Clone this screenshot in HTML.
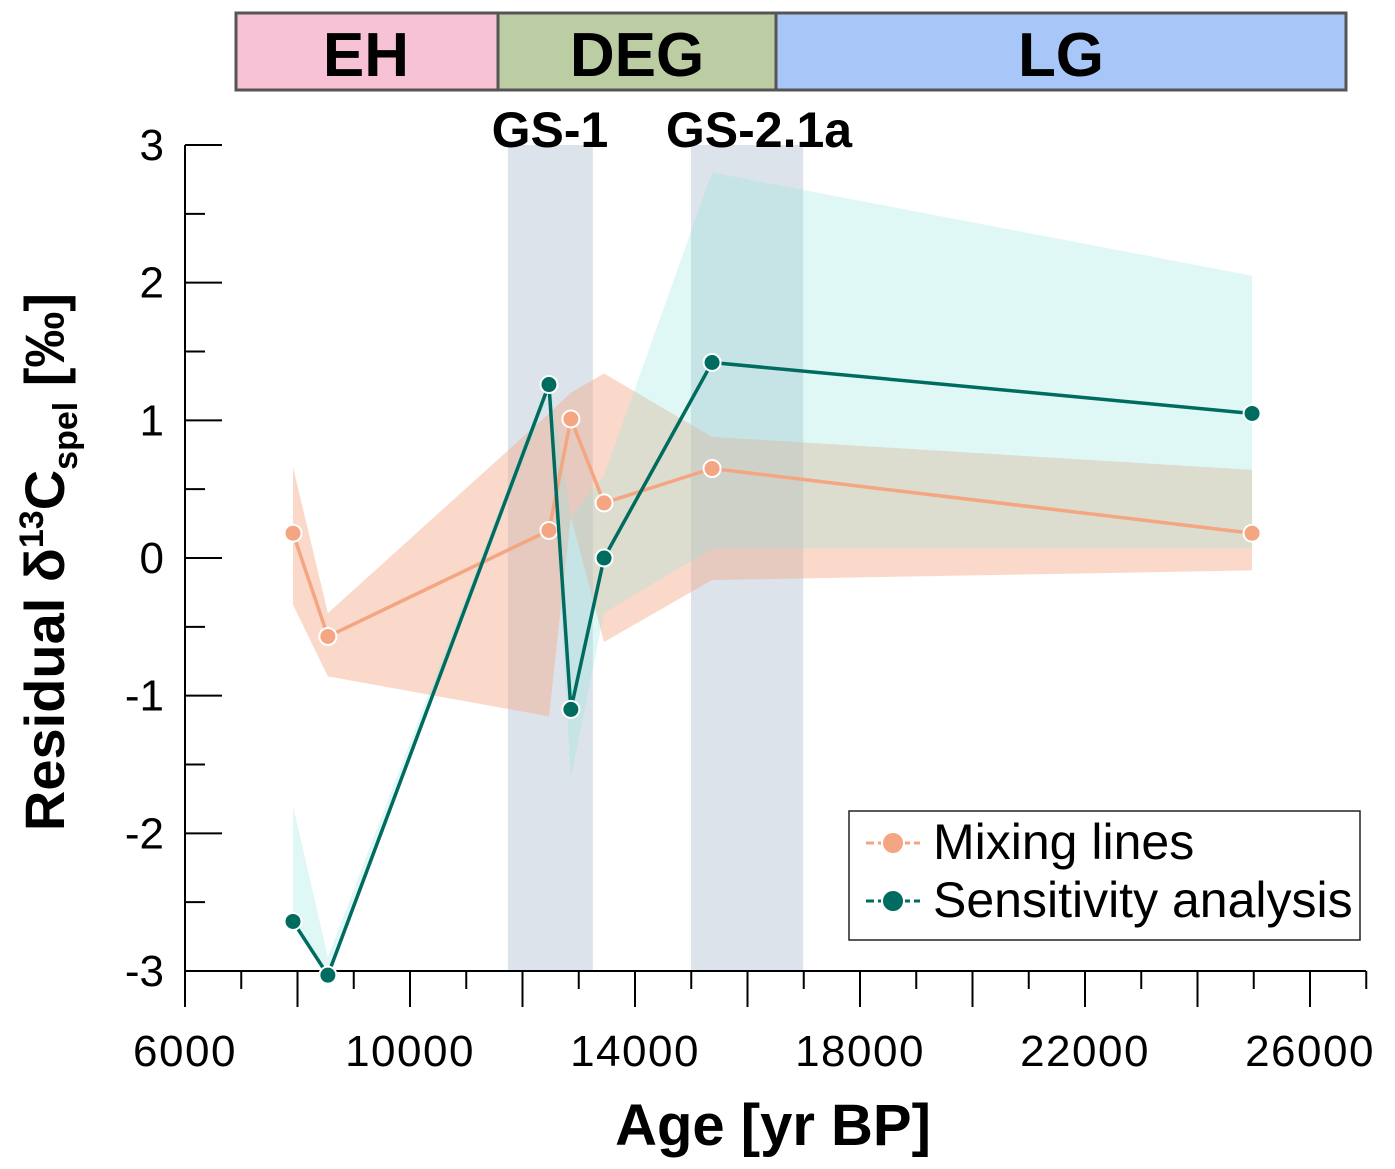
<!DOCTYPE html>
<html><head><meta charset="utf-8"><style>
body{margin:0;background:#fff;}
svg{display:block;font-family:"Liberation Sans",Arial,sans-serif;}
</style></head><body>
<svg id="chart" width="1395" height="1169">
<g>
<rect x="236" y="13" width="262" height="77" fill="#f7c1d6" stroke="#555" stroke-width="3"/>
<rect x="498" y="13" width="278" height="77" fill="#bccda3" stroke="#555" stroke-width="3"/>
<rect x="776" y="13" width="570" height="77" fill="#a8c7f8" stroke="#555" stroke-width="3"/>
<text x="366" y="76" font-size="62" font-weight="bold" text-anchor="middle">EH</text>
<text x="637" y="76" font-size="62" font-weight="bold" text-anchor="middle">DEG</text>
<text x="1061" y="76" font-size="62" font-weight="bold" text-anchor="middle">LG</text>
</g>
<g id="shades"></g>
<g id="bands"></g>
<g id="axes"></g>
<g id="series"></g>
<text x="550" y="147" font-size="50" font-weight="bold" text-anchor="middle">GS-1</text>
<text x="759" y="147" font-size="50" font-weight="bold" text-anchor="middle">GS-2.1a</text>
<text x="773" y="1145" font-size="58" font-weight="bold" text-anchor="middle">Age [yr BP]</text>
<text transform="translate(64,562) rotate(-90)" font-size="56" font-weight="bold" text-anchor="middle">Residual δ<tspan font-size="34" dy="-21">13</tspan><tspan dy="21">C</tspan><tspan font-size="34" dy="13">spel</tspan><tspan dy="-13"> [‰]</tspan></text>
<g>
<rect x="849" y="811" width="511" height="129" fill="#fff" stroke="#222" stroke-width="1.5"/>
<line x1="866" y1="843" x2="920" y2="843" stroke="#f4a582" stroke-width="3" stroke-dasharray="8,4"/>
<circle cx="893" cy="843" r="11" fill="#f4a582" stroke="#fff" stroke-width="2"/>
<text x="933" y="859" font-size="50">Mixing lines</text>
<line x1="866" y1="901" x2="920" y2="901" stroke="#006b5f" stroke-width="3" stroke-dasharray="8,4"/>
<circle cx="893" cy="901" r="11" fill="#006b5f" stroke="#fff" stroke-width="2"/>
<text x="933" y="917" font-size="50">Sensitivity analysis</text>
</g>
</svg>
<script>
const ages=[7920,8540,12470,12860,13450,15370,24970];
const mixVals=[0.18,-0.57,0.2,1.01,0.4,0.65,0.18];
const mixUpper=[0.66,-0.4,1.05,1.2,1.34,0.88,0.64];
const mixLower=[-0.34,-0.86,-1.15,0.3,-0.61,-0.16,-0.09];
const sensVals=[-2.64,-3.03,1.26,-1.1,0.0,1.42,1.05];
const sensUpper=[-1.8,-2.9,1.3,0.3,0.6,2.8,2.05];
const sensLower=[-2.65,-3.05,1.2,-1.6,-0.4,0.07,0.07];
const shadeStarts=[11740,14995];
const shadeEnds=[13250,16990];
const xTicks=[6000,10000,14000,18000,22000,26000];
const yTicks=[-3,-2,-1,0,1,2,3];
const NS="http://www.w3.org/2000/svg";
const X=v=>185+(v-6000)*225/4000;
const Y=v=>558-v*137.67;
function mk(tag,attrs,parent){const e=document.createElementNS(NS,tag);for(const k in attrs)e.setAttribute(k,attrs[k]);document.getElementById(parent).appendChild(e);return e;}
shadeStarts.forEach((s,i)=>{
 const r=mk('rect',{x:X(s),y:Y(3),width:X(shadeEnds[i])-X(s),height:Y(-3)-Y(3),fill:'#dce3ea'},'shades');
 
 
});
function band(up,lo,fill,op,name){
 const pts=ages.map((a,i)=>X(a)+','+Y(up[i])).concat(ages.map((a,i)=>X(a)+','+Y(lo[i])).reverse());
 const p=mk('polygon',{points:pts.join(' '),fill:fill,'fill-opacity':op},'bands');
 
 
}
band(mixUpper,mixLower,'#f4a582',0.42,'mixing-uncertainty-band');
band(sensUpper,sensLower,'#8fe5dc',0.28,'sensitivity-uncertainty-band');
let ax=mk('line',{x1:185,y1:Y(3),x2:185,y2:Y(-3)+36,stroke:'#000','stroke-width':2},'axes');


let bx=mk('line',{x1:185,y1:Y(-3),x2:1366,y2:Y(-3),stroke:'#000','stroke-width':2},'axes');


for(let v=-3;v<=3;v+=0.5){mk('line',{x1:185,x2:v%1===0?222:205,y1:Y(v),y2:Y(v),stroke:'#000','stroke-width':2},'axes');}
yTicks.forEach(v=>{const t=mk('text',{x:164,y:Y(v)+15,'font-size':44,'text-anchor':'end'},'axes');t.textContent=v;
 
 });
for(let v=6000;v<=27000;v+=1000){const maj=(v-6000)%2000===0;mk('line',{x1:X(v),x2:X(v),y1:Y(-3),y2:Y(-3)+(maj?36:18),stroke:'#000','stroke-width':2},'axes');}
xTicks.forEach(v=>{const t=mk('text',{x:X(v),y:Y(-3)+95,'font-size':44,'text-anchor':'middle','letter-spacing':1.5},'axes');t.textContent=v;
 
 });
function series(vals,color,name){
 const l=mk('polyline',{points:ages.map((a,i)=>X(a)+','+Y(vals[i])).join(' '),fill:'none',stroke:color,'stroke-width':3.5},'series');
 
 
 ages.forEach((a,i)=>{const c=mk('circle',{cx:X(a),cy:Y(vals[i]),r:8.5,fill:color,stroke:'#fff','stroke-width':2},'series');
  
  });
}
series(mixVals,'#f4a582','mixing');
series(sensVals,'#006b5f','sensitivity');
</script>
</body></html>
